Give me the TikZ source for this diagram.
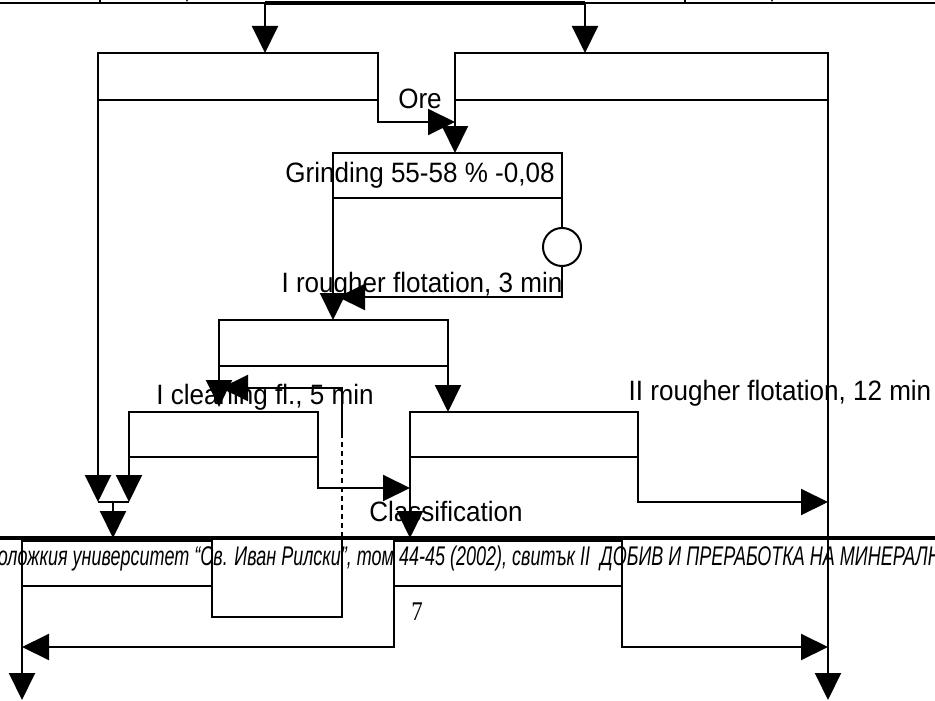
\documentclass[tikz,border=0pt]{standalone}
\usepackage{fontspec}
\setmainfont{Liberation Sans}
\newfontfamily\seriffont{Liberation Serif}
\usetikzlibrary{arrows.meta}
\begin{document}
\begin{tikzpicture}[x=1pt,y=-1pt,
  ln/.style={line width=2pt},
  thickln/.style={line width=3.2pt},
  arr/.style={ln, -{Triangle[length=27pt,width=26pt]}},
  box/.style={draw, line width=2pt, inner sep=0pt, outer sep=0pt, anchor=north west},
  lbl/.style={font=\fontsize{28}{32}\selectfont, xscale=0.93, inner sep=0pt},
]
\useasboundingbox (0,0) rectangle (935,701);
\clip (0,0) rectangle (935,701);

% top edge
\coordinate (ta) at (265,3);
\coordinate (tb) at (585,3);
\draw[ln] (0,3) -- (935,3);
\draw[thickln] (ta) -- (tb);
\draw[ln] (100,-10) -- (100,3);
\draw[ln] (685,-10) -- (685,3);
\draw[arr] (187,-60) -- (187,2);
\draw[arr] (772,-60) -- (772,2);

% upper boxes
\node[box, minimum width=280pt, minimum height=47pt] (lb) at (98,53) {};
\node[box, minimum width=373pt, minimum height=47pt] (rb) at (455,53) {};
\draw[arr] (ta) -- (ta |- lb.north);
\draw[arr] (tb) -- (tb |- rb.north);
\node[lbl] (ore) at (420,99) {Ore};
\coordinate (o1) at (378,122);
\coordinate (o2) at (455,122);
\draw[arr] (lb.south east) -- (o1) -- (o2);

% grinding
\node[box, minimum width=229pt, minimum height=45pt] (gb) at (333,153) {};
\node[lbl] (gbt) at (420,175) {Grinding 55-58 \% -0,08};
\draw[arr] (rb.south west) -- (rb.south west |- gb.north);
\node[circle, draw, line width=2pt, minimum size=38pt, inner sep=0pt, outer sep=0pt] (cy) at (562,247) {};
\draw[ln] (gb.south east) -- (cy.north);
\coordinate (g1) at (562,297);
\coordinate (g2) at (338,297);
\draw[arr] (cy.south) -- (g1) -- (g2);
\node[lbl] (r1t) at (422,285) {I rougher flotation, 3 min};

% first cleaning
\node[box, minimum width=229pt, minimum height=46pt] (c1) at (219,320) {};
\draw[arr] (gb.south west) -- (gb.south west |- c1.north);
\coordinate (c1d) at (219,407);
\draw[arr] (c1.south west) -- (c1d);
\coordinate (d1) at (342,433);
\coordinate (d2) at (342,388);
\coordinate (d3) at (221,388);
\coordinate (d4) at (342,538);
\draw[arr] (d1) -- (d2) -- (d3);
\draw[ln, dash pattern=on 5pt off 4pt] (d1) -- (d4);
\node[lbl] (c1t) at (265,397) {I cleaning fl., 5 min};

% second row boxes
\node[box, minimum width=189pt, minimum height=45pt] (c2) at (129,412) {};
\node[box, minimum width=228pt, minimum height=45pt] (r2) at (410,412) {};
\draw[arr] (c1.south east) -- (c1.south east |- r2.north);
\node[lbl] (r2t) at (780,393) {II rougher flotation, 12 min};
\coordinate (e1) at (318,488);
\draw[arr] (c2.south east) -- (e1) -- (e1 -| r2.west);

% merge at left
\coordinate (m1) at (98,502);
\coordinate (m2) at (129,502);
\coordinate (m) at (113,502);
\coordinate (mt) at (113,538);
\draw[arr] (lb.south west) -- (m1);
\draw[arr] (c2.south west) -- (m2);
\draw[ln] (m1) -- (m2);
\draw[arr] (m) -- (mt);

% II rougher outputs
\coordinate (f1) at (638,502);
\coordinate (f2) at (828,502);
\draw[arr] (r2.south east) -- (f1) -- (f2);
\coordinate (cl) at (410,538);
\draw[arr] (r2.south west) -- (cl);
\node[lbl] (cls) at (446,511) {Classification};

% footer band
\node[font=\itshape\fontsize{25}{28}\selectfont, anchor=base west, xscale=0.72, yscale=1.08, inner sep=0pt] (ft) at (-21,565) {геоложкия университет “Св. Иван Рилски”, том 44-45 (2002), свитък II\ \ ДОБИВ И ПРЕРАБОТКА НА МИНЕРАЛНИ};
\draw[thickln] (0,538) -- (935,538);
\node[box, minimum width=190pt, minimum height=45pt] (fa) at (22,541) {};
\node[box, minimum width=228pt, minimum height=45pt] (fb) at (394,541) {};
\coordinate (k1) at (212,617);
\coordinate (k2) at (342,617);
\draw[ln] (fa.south east) -- (k1) -- (k2) -- (d4);
\coordinate (bl) at (22,700);
\draw[arr] (fa.north west) -- (bl);
\coordinate (h1) at (394,647);
\coordinate (h2) at (22,647);
\draw[arr] (fb.south west) -- (h1) -- (h2);
\coordinate (h3) at (622,647);
\coordinate (h4) at (828,647);
\draw[arr] (fb.south east) -- (h3) -- (h4);
\coordinate (br) at (828,700);
\draw[arr] (rb.south east) -- (br);
\node[font=\seriffont\fontsize{27}{30}\selectfont, xscale=0.85, inner sep=0pt] (pg) at (417,612) {7};
\end{tikzpicture}
\end{document}
